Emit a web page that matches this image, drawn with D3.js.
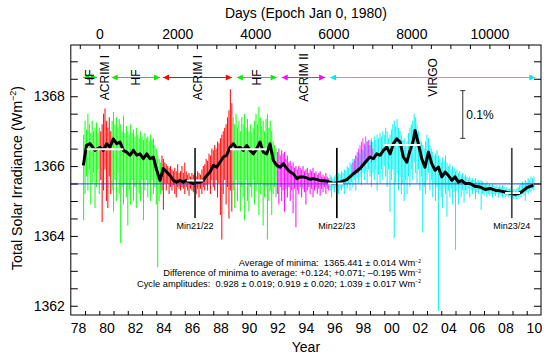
<!DOCTYPE html>
<html><head><meta charset="utf-8">
<script src="https://cdn.jsdelivr.net/npm/d3@7"></script>
<style>
body{margin:0;background:#fff}
svg text{font-family:"Liberation Sans",Arial,Helvetica,sans-serif;fill:#000}
</style>
</head><body>
<svg id="c" width="550" height="359"></svg>
<script>
// ---------------- DATA ----------------
// instrument periods (years) shown by the arrows on top
const instStart = [1978.86, 1979.84, 1980.87, 1984.47, 1989.65, 1992.80, 1996.20];
const instEnd   = [1979.84, 1980.87, 1984.26, 1989.30, 1992.45, 1995.85, 2010.60];
const instName  = ["HF", "ACRIM I", "HF", "ACRIM I", "HF", "ACRIM II", "VIRGO"];
const instColor = ["#00ee00", "#ff0000", "#00ee00", "#ff0000", "#00ee00", "#ff00ff", "#00e8e8"];
const instArrow = [true, false, true, true, true, true, true];

// daily data envelopes, sampled every 0.1 yr (low / high W/m2)
const sampleStep = 0.1;
const hf1Start = 1978.9;
const hf1Lo = [1364.45,1365.2,1365.7,1365.3,1365.9,1364.9,1365.5,1365.8,1364.8,1365.4,1365.9,1365.2];
const hf1Hi = [1366.9,1367.3,1367.05,1367.5,1367.2,1366.95,1367.3,1367.0,1367.1,1367.25,1366.95,1367.1];

const acrim1aStart = 1980.1;
const acrim1aLo = [1365.6,1364.4,1365.3,1365.9,1365.0,1364.8,1365.7,1365.2];
const acrim1aHi = [1367.0,1367.2,1367.5,1367.65,1367.3,1367.1,1367.4,1367.0];

const hf2Start = 1980.9;
const hf2Lo = [1365.3,1364.7,1365.6,1365.0,1365.8,1365.2,1363.8,1365.4,1364.9,1365.5,1365.1,1364.3,1365.3,1364.9,1365.6,1365.0,1365.4,1364.8,1365.5,1365.2,1365.0,1365.6,1364.45,1365.3,1365.6,1365.1,1365.5,1365.0,1365.6,1365.2,1365.4,1364.9,1363.1,1365.0,1365.2];
const hf2Hi = [1367.3,1367.55,1367.2,1367.4,1367.1,1367.35,1367.2,1367.0,1367.45,1366.95,1367.15,1367.0,1366.9,1367.2,1366.95,1367.05,1366.85,1367.1,1366.9,1366.8,1367.0,1366.85,1366.75,1366.95,1366.8,1366.85,1366.7,1366.9,1366.75,1366.8,1366.6,1366.5,1366.3,1366.2,1366.1];

const acrim1bStart = 1984.4;
const acrim1bLo = [1365.3,1364.75,1365.5,1365.3,1365.5,1365.2,1365.4,1365.3,1365.45,1365.2,1365.1,1365.4,1365.35,1365.3,1365.4,1365.35,1365.2,1365.4,1365.3,1365.15,1365.35,1365.3,1365.25,1365.4,1365.2,1365.35,1365.1,1365.35,1365.2,1365.4,1365.3,1365.45,1365.3,1365.5,1365.2,1365.6,1365.4,1365.3,1365.6,1365.1,1365.5,1364.6,1363.9,1365.2,1365.6,1364.9,1365.4,1364.5,1365.3,1364.7];
const acrim1bHi = [1366.3,1366.2,1366.1,1366.05,1366.0,1365.95,1366.0,1365.9,1365.85,1365.95,1365.85,1366.05,1365.8,1365.85,1366.0,1365.8,1366.1,1365.85,1365.75,1365.8,1365.7,1365.8,1365.75,1365.8,1365.7,1365.85,1365.8,1365.75,1365.9,1366.0,1366.05,1366.2,1366.15,1366.35,1366.3,1366.5,1366.45,1366.6,1366.5,1366.7,1366.65,1366.8,1366.9,1367.0,1367.1,1367.2,1367.4,1367.6,1368.2,1367.8];

const hf3Start = 1989.4;
const hf3Lo = [1365.3,1364.8,1365.6,1365.0,1365.5,1364.7,1365.4,1365.1,1364.45,1365.6,1365.0,1364.7,1365.4,1365.1,1365.6,1364.9,1365.3,1365.5,1364.6,1365.2,1365.5,1364.3,1365.1,1365.4,1363.9,1365.0,1365.3,1364.6,1365.2,1365.4,1365.1];
const hf3Hi = [1367.4,1367.2,1367.5,1367.1,1367.3,1367.0,1367.4,1367.2,1367.5,1367.1,1367.35,1367.0,1367.2,1366.95,1367.1,1367.3,1367.5,1367.2,1367.7,1367.4,1367.15,1367.3,1367.0,1367.35,1367.5,1367.1,1367.3,1367.0,1366.7,1366.6,1366.5];

const acrim2Start = 1992.5;
const acrim2Lo = [1365.2,1364.9,1365.4,1365.0,1365.3,1364.7,1365.35,1365.1,1365.4,1365.0,1365.3,1364.65,1365.35,1364.25,1365.3,1365.2,1365.4,1365.1,1365.35,1365.25,1364.9,1365.3,1365.4,1365.2,1365.35,1365.1,1365.3,1365.4,1365.2,1365.35,1365.15,1365.35,1365.25,1365.4,1365.2,1365.35,1365.3];
const acrim2Hi = [1366.4,1366.5,1366.3,1366.45,1366.35,1366.4,1366.2,1366.3,1366.1,1366.15,1366.0,1366.1,1365.95,1366.0,1365.9,1366.0,1365.95,1365.9,1366.0,1365.85,1365.9,1365.95,1365.8,1365.9,1365.85,1365.95,1365.8,1365.85,1365.75,1365.8,1365.85,1365.7,1365.75,1365.7,1365.8,1365.7,1365.65];

const acrim2LateStart = 1997.8;
const acrim2LateLo = [1365.7,1365.8,1365.75,1365.9,1365.8,1366.0,1365.9,1366.1,1366.0,1366.2,1366.1,1366.15,1366.2,1366.1,1366.3];
const acrim2LateHi = [1366.1,1366.2,1366.3,1366.4,1366.5,1366.6,1366.7,1366.8,1366.65,1366.85,1366.7,1366.75,1366.6,1366.7,1366.5];

const virgoStart = 1996.2;
const virgoLo = [1365.3,1365.1,1365.35,1365.25,1365.4,1365.3,1365.2,1365.35,1365.3,1365.4,1365.2,1365.45,1365.35,1365.5,1365.3,1365.55,1365.4,1365.6,1365.3,1365.65,1365.5,1365.7,1365.45,1365.8,1365.6,1365.85,1365.5,1365.9,1365.7,1365.4,1365.8,1365.6,1365.9,1365.3,1365.75,1365.5,1365.9,1365.6,1366.0,1365.7,1365.4,1365.9,1364.7,1365.6,1365.9,1363.95,1365.5,1365.8,1365.3,1365.7,1365.2,1365.5,1365.0,1365.6,1365.2,1365.7,1365.4,1365.9,1365.6,1366.1,1365.8,1365.5,1365.9,1365.3,1365.7,1364.1,1365.4,1365.2,1365.6,1365.8,1365.3,1365.6,1365.1,1365.5,1365.0,1365.4,1361.85,1365.3,1365.1,1364.8,1365.4,1365.2,1364.55,1365.3,1365.1,1365.35,1364.9,1365.25,1363.6,1365.3,1364.9,1365.35,1365.1,1365.3,1364.95,1365.3,1365.2,1365.35,1365.1,1365.3,1365.2,1365.3,1365.05,1365.25,1365.2,1365.3,1364.75,1365.2,1365.15,1365.25,1365.1,1365.2,1365.15,1365.2,1365.1,1365.2,1365.15,1365.2,1365.1,1365.2,1365.15,1365.1,1365.2,1365.1,1365.15,1365.1,1365.15,1365.1,1365.1,1365.05,1365.1,1365.05,1365.1,1365.15,1365.1,1365.2,1365.15,1365.0,1365.25,1365.2,1365.3,1365.25,1365.35,1365.3];
const virgoHi = [1365.75,1365.7,1365.65,1365.7,1365.75,1365.7,1365.8,1365.75,1365.85,1365.8,1365.9,1365.85,1366.0,1365.95,1366.1,1366.05,1366.2,1366.15,1366.3,1366.25,1366.4,1366.35,1366.5,1366.45,1366.6,1366.55,1366.7,1366.6,1366.75,1366.8,1366.7,1366.85,1366.75,1366.9,1366.8,1366.95,1366.85,1367.0,1366.9,1367.1,1367.0,1366.8,1366.9,1367.05,1367.2,1367.3,1367.15,1367.35,1367.1,1367.0,1366.9,1366.75,1366.8,1366.6,1366.7,1366.95,1367.1,1367.2,1367.3,1367.5,1367.4,1367.2,1367.0,1366.8,1366.7,1366.6,1366.5,1366.7,1366.9,1366.8,1366.6,1366.5,1366.4,1366.3,1366.35,1366.45,1366.3,1366.2,1366.1,1366.25,1366.15,1366.3,1366.1,1366.0,1366.05,1365.9,1366.0,1365.95,1365.85,1365.9,1365.8,1365.85,1365.75,1365.8,1365.7,1365.75,1365.7,1365.65,1365.7,1365.6,1365.65,1365.6,1365.65,1365.55,1365.6,1365.55,1365.6,1365.55,1365.5,1365.5,1365.55,1365.45,1365.5,1365.45,1365.5,1365.45,1365.4,1365.45,1365.4,1365.45,1365.4,1365.45,1365.4,1365.35,1365.4,1365.35,1365.35,1365.4,1365.3,1365.35,1365.3,1365.35,1365.4,1365.45,1365.5,1365.55,1365.5,1365.6,1365.55,1365.65,1365.6,1365.7,1365.65,1365.7];

// 81-day running mean (black line)
const smoothYear = [1978.88,1979.1,1979.35,1979.7,1980.05,1980.28,1980.52,1980.75,1980.98,1981.22,1981.45,1981.69,1981.92,1982.16,1982.39,1982.63,1982.86,1983.09,1983.33,1983.56,1983.79,1984.03,1984.26,1984.49,1984.73,1984.96,1985.2,1985.43,1985.66,1985.9,1986.13,1986.37,1986.6,1986.84,1987.07,1987.3,1987.54,1987.77,1988.0,1988.24,1988.47,1988.71,1988.94,1989.18,1989.41,1989.65,1989.88,1990.11,1990.35,1990.58,1990.81,1991.05,1991.28,1991.51,1991.75,1991.98,1992.22,1992.45,1992.69,1992.92,1993.16,1993.39,1993.62,1993.86,1994.09,1994.32,1994.56,1994.79,1995.03,1995.49,1995.96,1996.43,1996.9,1997.37,1997.83,1998.3,1998.77,1999.0,1999.24,1999.47,1999.71,1999.94,2000.18,2000.41,2000.64,2000.88,2001.11,2001.34,2001.58,2001.81,2002.04,2002.16,2002.39,2002.63,2002.86,2003.1,2003.33,2003.57,2003.8,2004.04,2004.27,2004.5,2004.74,2004.97,2005.2,2005.44,2005.67,2006.02,2006.37,2006.72,2007.07,2007.42,2007.77,2008.12,2008.47,2008.82,2009.17,2009.41,2009.64,2010.0,2010.24,2010.47];
const smoothTSI = [1366.02,1366.59,1366.64,1366.45,1366.54,1366.45,1366.64,1366.54,1366.78,1366.64,1366.69,1366.45,1366.40,1366.31,1366.45,1366.31,1366.35,1366.21,1366.35,1366.21,1366.26,1365.88,1365.59,1365.93,1365.83,1365.73,1365.59,1365.54,1365.59,1365.54,1365.59,1365.54,1365.50,1365.54,1365.54,1365.59,1365.73,1365.83,1366.02,1365.97,1366.11,1366.26,1366.31,1366.54,1366.64,1366.50,1366.54,1366.45,1366.59,1366.45,1366.35,1366.50,1366.69,1366.40,1366.35,1366.64,1366.16,1366.02,1365.97,1366.07,1365.93,1365.83,1365.78,1365.64,1365.69,1365.69,1365.66,1365.62,1365.64,1365.59,1365.57,1365.50,1365.54,1365.61,1365.78,1365.93,1366.16,1366.26,1366.21,1366.35,1366.31,1366.45,1366.54,1366.35,1366.64,1366.78,1366.69,1366.26,1366.11,1366.45,1366.73,1367.02,1366.64,1366.21,1365.97,1366.40,1366.07,1365.88,1365.97,1365.69,1365.83,1365.73,1365.59,1365.69,1365.54,1365.59,1365.50,1365.50,1365.42,1365.40,1365.33,1365.36,1365.31,1365.29,1365.26,1365.23,1365.19,1365.21,1365.26,1365.38,1365.42,1365.45];

// plateau / minimum levels (white bars)
const levelStart = [1979.12, 1986.14, 1989.18, 1996.06, 1999.92, 2008.48];
const levelEnd   = [1981.69, 1987.30, 1991.75, 1997.10, 2002.52, 2009.53];
const levelValue = [1366.48, 1365.59, 1366.48, 1365.50, 1366.60, 1365.23];

// solar minima markers
const minYear  = [1986.72, 1996.67, 2008.95];
const minLabel = ["Min21/22", "Min22/23", "Min23/24"];
const minTop = 1366.52, minBottom = 1364.51;
const minColor = ["#222", "#000", "#444"];

const avgLine = 1365.49;
const scaleBarYear = 2005.51, scaleBarTop = 1368.16, scaleBarLen = 1365.441 * 0.001;

const yearTicks = d3.range(1979, 2011, 1);
const yearLabels = d3.range(1978, 2011, 2);
const dayTicks = d3.range(-500, 11001, 500);
const dayLabels = [0, 2000, 4000, 6000, 8000, 10000];
const tsiTicks = d3.range(1362, 1369.01, 0.5);
const tsiLabels = [1362, 1364, 1366, 1368];

// ---------------- DRAW ----------------
const svg = d3.select("#c");
const L = 70.8, R = 541, T = 45, B = 315;
const x = d3.scaleLinear().domain([1978, 2011]).range([L, R]);
const xd = d3.scaleLinear().domain([(1978 - 1980) * 365.25, (2011 - 1980) * 365.25]).range([L, R]);
const y = d3.scaleLinear().domain([1361.735, 1369.467]).range([B, T]);

svg.append("defs").append("clipPath").attr("id", "clip")
  .append("rect").attr("x", L).attr("y", T).attr("width", R - L).attr("height", B - T);

const plot = svg.append("g").attr("clip-path", "url(#clip)");

const segs = [
  {start: hf1Start, lo: hf1Lo, hi: hf1Hi, color: "#1aff1a", w: 1.05},
  {start: hf2Start, lo: hf2Lo, hi: hf2Hi, color: "#1aff1a", w: 1.05},
  {start: hf3Start, lo: hf3Lo, hi: hf3Hi, color: "#1aff1a", w: 1.05},
  {start: acrim1aStart, lo: acrim1aLo, hi: acrim1aHi, color: "#ff1010", w: 1.05},
  {start: acrim1bStart, lo: acrim1bLo, hi: acrim1bHi, color: "#ff1010", w: 1.05},
  {start: acrim2Start, lo: acrim2Lo, hi: acrim2Hi, color: "#ff10ff", w: 1.05},
  {start: virgoStart, lo: virgoLo, hi: virgoHi, color: "#10f4f4", w: 1.05},
  {start: acrim2LateStart, lo: acrim2LateLo, hi: acrim2LateHi, color: "#ff10ff", w: 0.8}
];
segs.forEach(s => {
  const pts = s.lo.map((v, i) => ({t: s.start + i * sampleStep, lo: v, hi: s.hi[i]}));
  plot.append("g").selectAll("line").data(pts).join("line")
    .attr("x1", d => x(d.t)).attr("x2", d => x(d.t))
    .attr("y1", d => y(d.lo)).attr("y2", d => y(d.hi))
    .attr("stroke", s.color).attr("stroke-width", s.w);
});

// average of minima line
plot.append("line").attr("x1", L).attr("x2", R).attr("y1", y(avgLine)).attr("y2", y(avgLine))
  .attr("stroke", "#3b3bff").attr("stroke-width", 1);

// running mean
const smooth = smoothYear.map((t, i) => [t, smoothTSI[i]]);
plot.append("path").datum(smooth)
  .attr("d", d3.line().x(d => x(d[0])).y(d => y(d[1])))
  .attr("fill", "none").attr("stroke", "#000").attr("stroke-width", 3).attr("stroke-linejoin", "round");

// white levels
plot.selectAll(".lev").data(levelValue).join("line")
  .attr("x1", (d, i) => x(levelStart[i])).attr("x2", (d, i) => x(levelEnd[i]))
  .attr("y1", d => y(d)).attr("y2", d => y(d))
  .attr("stroke", "#fff").attr("stroke-width", 2);

// minima markers
minYear.forEach((t, i) => {
  svg.append("line").attr("x1", x(t)).attr("x2", x(t)).attr("y1", y(minTop)).attr("y2", y(minBottom))
    .attr("stroke", minColor[i]).attr("stroke-width", 1.7);
  svg.append("text").attr("x", x(t)).attr("y", y(minBottom) + 11).attr("text-anchor", "middle")
    .attr("font-size", 9).text(minLabel[i]);
});

// 0.1% scale bar
const sbx = x(scaleBarYear), sby1 = y(scaleBarTop), sby2 = y(scaleBarTop - scaleBarLen);
svg.append("line").attr("x1", sbx).attr("x2", sbx).attr("y1", sby1).attr("y2", sby2).attr("stroke", "#333").attr("stroke-width", 1);
[sby1, sby2].forEach(v => svg.append("line").attr("x1", sbx - 2.5).attr("x2", sbx + 2.5).attr("y1", v).attr("y2", v).attr("stroke", "#333"));
svg.append("text").attr("x", sbx + 3.5).attr("y", (sby1 + sby2) / 2 + 5).attr("font-size", 12).text("0.1%");

// instrument arrows
const arrowY = 77.5;
instName.forEach((n, i) => {
  const x1 = x(instStart[i]), x2 = x(instEnd[i]), c = instColor[i];
  if (instArrow[i]) {
    svg.append("line").attr("x1", x1).attr("x2", x2).attr("y1", arrowY).attr("y2", arrowY).attr("stroke", c).attr("stroke-width", 1);
    svg.append("path").attr("d", `M${x1},${arrowY}L${x1 + 6},${arrowY - 3}L${x1 + 6},${arrowY + 3}Z`).attr("fill", c);
    svg.append("path").attr("d", `M${x2},${arrowY}L${x2 - 6},${arrowY - 3}L${x2 - 6},${arrowY + 3}Z`).attr("fill", c);
  }
  svg.append("text").attr("transform", `translate(${(x1 + x2) / 2},${arrowY}) rotate(-90)`)
    .attr("text-anchor", "middle").attr("dy", "0.36em").attr("font-size", 12).text(n);
});

// annotation text
const ann = [
  ["Average of minima:  1365.441 \u00b1 0.014 Wm"],
  ["Difference of minima to average: +0.124; +0.071; \u20130.195 Wm"],
  ["Cycle amplitudes:  0.928 \u00b1 0.019; 0.919 \u00b1 0.020; 1.039 \u00b1 0.017 Wm"]
];
ann.forEach((a, i) => {
  const t = svg.append("text").attr("x", 421).attr("y", 266 + i * 10.3).attr("text-anchor", "end")
    .attr("font-size", 9.3).style("white-space", "pre");
  t.append("tspan").text(a[0]);
  t.append("tspan").attr("dy", -3.5).attr("font-size", 5).text("\u22122");
});

// axes
const axG = svg.append("g");
axG.append("g").attr("transform", `translate(0,${B})`)
  .call(d3.axisBottom(x).tickValues(yearTicks).tickSize(-4).tickFormat(""));
axG.append("g").attr("transform", `translate(0,${B})`)
  .call(d3.axisBottom(x).tickValues(yearLabels.map(v => v + 0.5)).tickSize(0).tickPadding(8)
    .tickFormat(d => String(Math.floor(d) % 100).padStart(2, "0")));
axG.append("g").attr("transform", `translate(0,${T})`)
  .call(d3.axisTop(xd).tickValues(dayTicks).tickSize(-4).tickFormat(""));
axG.append("g").attr("transform", `translate(0,${T})`)
  .call(d3.axisTop(xd).tickValues(dayLabels).tickSize(0).tickPadding(6.5).tickFormat(d3.format("d")));
axG.append("g").attr("transform", `translate(${L},0)`)
  .call(d3.axisLeft(y).tickValues(tsiTicks).tickSize(-7).tickPadding(6)
    .tickFormat(d => tsiLabels.includes(d) ? d : ""));
axG.append("g").attr("transform", `translate(${R},0)`)
  .call(d3.axisRight(y).tickValues(tsiTicks).tickSize(-7).tickFormat(""));
axG.selectAll(".domain").remove();
axG.selectAll(".tick line").attr("stroke", "#000");
axG.selectAll(".tick text").attr("font-size", 14).attr("fill", "#000")
  .style("font-family", '"Liberation Sans",Arial,sans-serif');

svg.append("rect").attr("x", L).attr("y", T).attr("width", R - L).attr("height", B - T)
  .attr("fill", "none").attr("stroke", "#000").attr("stroke-width", 1);

// titles
svg.append("text").attr("x", (L + R) / 2).attr("y", 352).attr("text-anchor", "middle").attr("font-size", 14).text("Year");
svg.append("text").attr("x", (L + R) / 2).attr("y", 17.5).attr("text-anchor", "middle").attr("font-size", 14).text("Days (Epoch Jan 0, 1980)");
const yt = svg.append("text").attr("transform", "translate(22,178) rotate(-90)").attr("text-anchor", "middle").attr("font-size", 14.3);
yt.append("tspan").text("Total Solar Irradiance (Wm");
yt.append("tspan").attr("dy", -6).attr("font-size", 9).text("\u22122");
yt.append("tspan").attr("dy", 6).text(")");
</script>
</body></html>
